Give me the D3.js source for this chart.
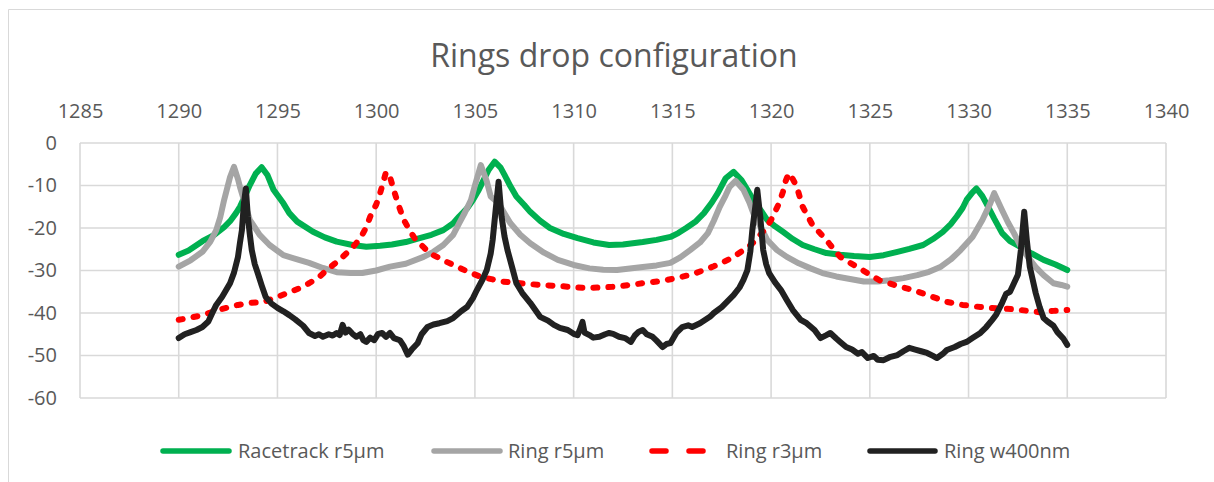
<!DOCTYPE html>
<html>
<head>
<meta charset="utf-8">
<script src="https://cdn.jsdelivr.net/npm/d3@7"></script>
<style>
  html, body { margin: 0; padding: 0; background: #ffffff; }
  svg { display: block; }
  text { font-family: "Open Sans", "Noto Sans", sans-serif; fill: #595959; }
</style>
</head>
<body>
<svg id="chart" width="1214" height="482"></svg>
<script>
// ---- Data: drop-port transmission (dB) versus wavelength (nm) ----
const chartTitle = "Rings drop configuration";
const seriesNames = ["Racetrack r5µm", "Ring r5µm", "Ring r3µm", "Ring w400nm"];

const xTicks = [1285, 1290, 1295, 1300, 1305, 1310, 1315, 1320, 1325, 1330, 1335, 1340];
const xTickLabels = ["1285", "1290", "1295", "1300", "1305", "1310", "1315", "1320", "1325", "1330", "1335", "1340"];
const yTicks = [0, -10, -20, -30, -40, -50, -60];
const yTickLabels = ["0", "-10", "-20", "-30", "-40", "-50", "-60"];

const racetrackWl = [1290.0, 1290.5, 1291.2, 1291.8, 1292.3, 1292.6, 1292.9, 1293.1, 1293.4, 1293.6, 1293.9, 1294.2, 1294.5, 1294.8, 1295.3, 1295.6, 1296.0, 1296.8, 1297.4, 1298.0, 1298.8, 1299.5, 1300.2, 1300.8, 1301.5, 1302.2, 1302.8, 1303.4, 1303.9, 1304.2, 1304.6, 1304.9, 1305.2, 1305.4, 1305.7, 1306.0, 1306.3, 1306.5, 1306.8, 1307.1, 1307.5, 1307.8, 1308.3, 1308.8, 1309.5, 1310.2, 1311.0, 1311.8, 1312.5, 1313.5, 1314.2, 1314.9, 1315.3, 1315.7, 1316.2, 1316.6, 1317.0, 1317.3, 1317.7, 1318.1, 1318.5, 1318.8, 1319.1, 1319.5, 1319.8, 1320.2, 1320.6, 1321.1, 1321.6, 1322.2, 1322.8, 1323.5, 1324.2, 1325.0, 1325.7, 1326.4, 1327.0, 1327.7, 1328.2, 1328.7, 1329.1, 1329.4, 1329.7, 1329.9, 1330.2, 1330.4, 1330.7, 1330.9, 1331.3, 1331.7, 1332.1, 1332.6, 1333.2, 1333.8, 1334.4, 1335.0];
const racetrackDb = [-26.3, -25.3, -23.1, -21.6, -19.8, -18.4, -16.5, -15.0, -12.0, -9.9, -7.2, -5.7, -7.6, -11.0, -14.2, -16.5, -18.5, -20.9, -22.2, -23.2, -24.0, -24.4, -24.2, -23.9, -23.3, -22.4, -21.6, -20.5, -18.9, -17.3, -15.4, -13.4, -11.0, -9.1, -6.3, -4.4, -5.8, -7.5, -10.2, -12.6, -14.6, -16.2, -18.3, -20.0, -21.4, -22.4, -23.4, -24.0, -23.9, -23.3, -22.8, -22.1, -21.2, -20.0, -18.4, -16.5, -14.0, -11.8, -8.3, -6.8, -8.7, -11.0, -13.4, -16.0, -18.1, -19.6, -20.9, -22.6, -24.0, -25.0, -25.9, -26.3, -26.6, -26.8, -26.4, -25.6, -24.9, -24.0, -22.6, -20.9, -19.1, -17.3, -15.3, -13.4, -11.6, -10.7, -12.5, -14.2, -17.8, -21.2, -23.1, -24.4, -26.0, -27.5, -28.6, -29.9];

const ring5Wl = [1290.0, 1290.6, 1291.2, 1291.6, 1291.9, 1292.1, 1292.3, 1292.6, 1292.8, 1293.0, 1293.1, 1293.4, 1293.6, 1294.1, 1294.6, 1295.3, 1296.0, 1296.6, 1297.3, 1298.0, 1298.7, 1299.3, 1300.0, 1300.7, 1301.5, 1302.4, 1302.9, 1303.4, 1303.9, 1304.2, 1304.5, 1304.8, 1305.0, 1305.3, 1305.6, 1305.8, 1306.2, 1306.5, 1306.8, 1307.3, 1307.8, 1308.5, 1309.2, 1310.0, 1310.8, 1311.5, 1312.2, 1313.5, 1314.2, 1314.9, 1315.4, 1315.9, 1316.4, 1316.8, 1317.1, 1317.4, 1317.7, 1317.9, 1318.2, 1318.6, 1318.9, 1319.1, 1319.5, 1319.8, 1320.3, 1320.8, 1321.4, 1322.0, 1322.6, 1323.3, 1324.0, 1324.7, 1325.4, 1326.0, 1326.7, 1327.4, 1328.0, 1328.6, 1329.1, 1329.6, 1330.2, 1330.7, 1331.1, 1331.3, 1331.7, 1332.0, 1332.3, 1332.6, 1333.0, 1333.4, 1333.8, 1334.3, 1334.7, 1335.0];
const ring5Db = [-29.1, -27.6, -25.6, -23.2, -20.5, -17.5, -13.4, -8.0, -5.6, -8.5, -10.3, -15.0, -18.1, -21.6, -24.0, -26.4, -27.4, -28.2, -29.4, -30.4, -30.6, -30.6, -30.0, -29.1, -28.4, -26.8, -25.6, -24.0, -21.6, -18.9, -16.3, -13.4, -10.0, -5.2, -9.0, -12.6, -14.2, -16.6, -18.9, -21.6, -23.6, -25.8, -27.5, -28.7, -29.5, -29.8, -29.9, -29.2, -28.8, -28.2, -26.9, -25.2, -23.4, -21.2, -18.3, -15.0, -12.3, -10.3, -8.9, -11.0, -14.0, -16.5, -20.0, -22.8, -25.2, -26.8, -28.3, -29.5, -30.6, -31.4, -32.0, -32.6, -32.6, -32.3, -31.8, -31.1, -30.3, -29.1, -27.4, -25.2, -22.1, -18.1, -14.2, -11.8, -15.8, -18.7, -21.2, -24.0, -26.8, -29.2, -31.1, -33.0, -33.4, -33.8];

const ring3Wl = [1290.0, 1290.6, 1291.2, 1292.0, 1293.0, 1293.7, 1294.3, 1294.9, 1295.5, 1296.1, 1296.6, 1297.1, 1297.5, 1297.9, 1298.3, 1298.8, 1299.2, 1299.5, 1299.7, 1300.0, 1300.2, 1300.4, 1300.5, 1300.7, 1300.9, 1301.1, 1301.4, 1301.7, 1302.0, 1302.4, 1302.7, 1303.4, 1304.1, 1304.7, 1305.3, 1305.9, 1306.4, 1307.3, 1308.3, 1309.4, 1310.5, 1311.3, 1312.2, 1313.5, 1314.4, 1315.2, 1316.0, 1316.6, 1317.1, 1317.6, 1318.1, 1318.6, 1319.0, 1319.3, 1319.7, 1320.0, 1320.2, 1320.4, 1320.6, 1320.7, 1320.9, 1321.1, 1321.3, 1321.6, 1322.1, 1322.8, 1323.0, 1323.5, 1324.0, 1324.5, 1325.0, 1325.5, 1326.3, 1327.2, 1328.0, 1328.9, 1329.7, 1330.6, 1331.4, 1332.3, 1333.0, 1333.6, 1334.3, 1335.0];
const ring3Db = [-41.6, -41.1, -40.5, -39.3, -38.1, -37.6, -37.4, -36.4, -35.3, -34.2, -33.0, -31.6, -29.9, -28.4, -26.8, -24.6, -22.4, -19.8, -17.3, -14.5, -11.8, -8.5, -6.8, -8.0, -11.2, -14.2, -18.1, -20.6, -22.8, -24.5, -25.9, -27.6, -29.1, -30.4, -31.5, -32.1, -32.6, -33.0, -33.4, -33.7, -34.1, -34.0, -33.8, -33.0, -32.5, -31.8, -30.9, -29.9, -29.0, -28.0, -26.8, -25.2, -23.9, -22.4, -20.3, -18.1, -16.2, -14.2, -11.5, -9.4, -7.1, -8.5, -10.3, -15.0, -19.3, -22.8, -24.0, -26.8, -28.2, -29.5, -31.0, -32.3, -33.5, -34.6, -35.9, -37.4, -38.1, -38.6, -38.9, -39.1, -39.5, -39.8, -39.5, -39.3];

const ringWWl = [1290.0, 1290.3, 1290.6, 1290.9, 1291.2, 1291.5, 1291.7, 1291.9, 1292.2, 1292.4, 1292.6, 1292.8, 1293.0, 1293.1, 1293.2, 1293.3, 1293.4, 1293.5, 1293.6, 1293.7, 1293.85, 1294.0, 1294.2, 1294.4, 1294.7, 1295.0, 1295.3, 1295.6, 1295.9, 1296.3, 1296.6, 1296.9, 1297.1, 1297.3, 1297.6, 1297.8, 1298.0, 1298.15, 1298.3, 1298.45, 1298.6, 1298.8, 1299.0, 1299.2, 1299.35, 1299.5, 1299.7, 1299.9, 1300.1, 1300.3, 1300.5, 1300.7, 1300.9, 1301.2, 1301.4, 1301.6, 1301.8, 1302.1, 1302.3, 1302.6, 1302.9, 1303.2, 1303.6, 1303.9, 1304.3, 1304.6, 1304.9, 1305.1, 1305.4, 1305.6, 1305.8, 1305.9, 1306.05, 1306.2, 1306.35, 1306.5, 1306.65, 1306.9, 1307.1, 1307.4, 1307.8, 1308.3, 1308.7, 1309.0, 1309.3, 1309.7, 1310.0, 1310.2, 1310.35, 1310.45, 1310.55, 1310.8, 1311.0, 1311.3, 1311.6, 1311.8, 1312.0, 1312.3, 1312.6, 1312.9, 1313.1, 1313.3, 1313.5, 1313.7, 1314.0, 1314.2, 1314.5, 1314.7, 1314.9, 1315.2, 1315.5, 1315.8, 1316.0, 1316.4, 1316.9, 1317.1, 1317.5, 1317.8, 1318.1, 1318.4, 1318.6, 1318.8, 1318.95, 1319.05, 1319.2, 1319.3, 1319.45, 1319.6, 1319.75, 1319.9, 1320.2, 1320.5, 1320.8, 1321.1, 1321.5, 1321.8, 1322.2, 1322.5, 1322.8, 1323.0, 1323.3, 1323.5, 1323.8, 1324.1, 1324.4, 1324.6, 1324.9, 1325.2, 1325.4, 1325.7, 1326.0, 1326.4, 1326.7, 1327.0, 1327.3, 1327.6, 1327.9, 1328.2, 1328.4, 1328.7, 1328.9, 1329.3, 1329.6, 1329.9, 1330.2, 1330.6, 1330.9, 1331.2, 1331.4, 1331.7, 1331.9, 1332.1, 1332.3, 1332.5, 1332.65, 1332.75, 1332.82, 1332.95, 1333.1, 1333.4, 1333.6, 1333.8, 1334.0, 1334.3, 1334.5, 1334.8, 1335.0];
const ringWDb = [-45.9, -45.0, -44.5, -44.0, -43.3, -42.0, -40.0, -38.1, -36.2, -34.6, -33.0, -30.5, -26.8, -23.5, -20.5, -14.2, -10.7, -17.3, -21.5, -25.2, -28.5, -30.6, -33.5, -36.2, -37.8, -38.8, -39.6, -40.5, -41.5, -43.0, -44.7, -45.4, -45.0, -45.6, -45.0, -45.3, -44.7, -45.2, -42.8, -44.6, -43.9, -44.9, -45.6, -45.0, -46.4, -46.8, -45.8, -46.4, -44.9, -44.7, -45.6, -44.7, -45.9, -46.4, -47.8, -49.8, -48.6, -47.1, -45.0, -43.3, -42.7, -42.4, -41.9, -41.2, -39.6, -38.6, -36.5, -34.6, -32.0, -29.9, -26.0, -22.8, -15.8, -9.1, -17.3, -22.0, -25.2, -29.5, -33.0, -35.3, -37.6, -40.9, -41.8, -42.8, -43.5, -44.0, -44.9, -45.2, -43.5, -42.1, -44.6, -45.2, -45.8, -45.6, -45.0, -44.7, -44.9, -45.6, -45.9, -46.8, -45.3, -44.4, -44.0, -45.0, -45.6, -46.5, -48.0, -47.3, -47.1, -44.7, -43.3, -42.9, -43.3, -42.4, -40.9, -40.0, -38.6, -37.2, -35.8, -34.0, -32.2, -29.9, -25.5, -20.5, -15.0, -11.0, -17.3, -25.2, -28.5, -30.6, -32.8, -34.6, -37.0, -39.3, -41.6, -42.4, -44.0, -45.9, -45.2, -44.7, -46.0, -46.8, -48.0, -48.6, -49.6, -49.2, -50.6, -50.1, -51.0, -51.1, -50.4, -49.9, -49.0, -48.2, -48.6, -49.0, -49.4, -50.1, -50.6, -49.6, -48.7, -48.0, -47.3, -46.8, -45.9, -44.7, -43.3, -41.6, -40.4, -37.6, -35.5, -35.0, -33.0, -31.0, -25.2, -19.8, -16.2, -22.8, -29.1, -35.3, -38.6, -41.2, -42.0, -43.0, -44.5, -46.0, -47.5];

// ---- Layout ----
const W = 1214, H = 482;
const plot = { left: 80, right: 1166, top: 143, bottom: 398 };

const x = d3.scaleLinear().domain([1285, 1340]).range([plot.left, plot.right]);
const y = d3.scaleLinear().domain([-60, 0]).range([plot.bottom, plot.top]);

const svg = d3.select("#chart");
svg.append("rect").attr("width", W).attr("height", H).attr("fill", "#ffffff");

// chart-area frame (left and top edges)
svg.append("path")
  .attr("d", `M8.5,${H} L8.5,9.5 L${W},9.5`)
  .attr("fill", "none").attr("stroke", "#d9d9d9").attr("stroke-width", 1);

// Title
svg.append("text")
  .attr("x", 614).attr("y", 67)
  .attr("text-anchor", "middle")
  .style("font-size", "32px")
  .text(chartTitle);

// Gridlines
const grid = svg.append("g").attr("stroke", "#d9d9d9").attr("stroke-width", 1.6);
grid.selectAll("line.v").data(xTicks).join("line")
  .attr("class", "v")
  .attr("x1", d => x(d)).attr("x2", d => x(d))
  .attr("y1", plot.top).attr("y2", plot.bottom);
grid.selectAll("line.h").data(yTicks).join("line")
  .attr("class", "h")
  .attr("x1", plot.left).attr("x2", plot.right)
  .attr("y1", d => y(d)).attr("y2", d => y(d));

// Axes (labels only; the frame is drawn by the gridlines)
const xAxis = svg.append("g")
  .attr("transform", "translate(0,118)")
  .call(d3.axisTop(x).tickValues(xTicks).tickFormat((d, i) => xTickLabels[i]).tickSize(0).tickPadding(0));
const yAxis = svg.append("g")
  .attr("transform", "translate(57,0)")
  .call(d3.axisLeft(y).tickValues(yTicks).tickFormat((d, i) => yTickLabels[i]).tickSize(0).tickPadding(0));
[xAxis, yAxis].forEach(g => {
  g.select(".domain").remove();
  g.selectAll("text")
    .attr("fill", "#595959")
    .style("font-family", "'Open Sans', 'Noto Sans', sans-serif")
    .style("font-size", "20px");
});

// Series
const line = d3.line().x(d => x(d[0])).y(d => y(d[1]));
const series = [
  { name: seriesNames[0], wl: racetrackWl, db: racetrackDb, color: "#00b050", dash: null },
  { name: seriesNames[1], wl: ring5Wl, db: ring5Db, color: "#a5a5a5", dash: null },
  { name: seriesNames[2], wl: ring3Wl, db: ring3Db, color: "#ff0000", dash: "4,11" },
  { name: seriesNames[3], wl: ringWWl, db: ringWDb, color: "#212121", dash: null }
];

svg.append("g").selectAll("path").data(series).join("path")
  .attr("d", s => line(s.wl.map((w, i) => [w, s.db[i]])))
  .attr("fill", "none")
  .attr("stroke", s => s.color)
  .attr("stroke-width", 6)
  .attr("stroke-linejoin", "round")
  .attr("stroke-linecap", "round")
  .attr("stroke-dasharray", s => s.dash);

// Legend
const legendY = 451;
const legendItems = [
  { x0: 163, x1: 229, tx: 238 },
  { x0: 434, x1: 500, tx: 508 },
  { x0: 652, x1: 703, tx: 726, dash: "14,23" },
  { x0: 870, x1: 935, tx: 944 }
];
const legend = svg.append("g");
legend.selectAll("line").data(series).join("line")
  .attr("x1", (s, i) => legendItems[i].x0)
  .attr("x2", (s, i) => legendItems[i].x1)
  .attr("y1", legendY).attr("y2", legendY)
  .attr("stroke", s => s.color)
  .attr("stroke-width", 5.5)
  .attr("stroke-linecap", "round")
  .attr("stroke-dasharray", (s, i) => legendItems[i].dash || null);
legend.selectAll("text").data(series).join("text")
  .attr("x", (s, i) => legendItems[i].tx)
  .attr("y", legendY + 7)
  .style("font-size", "20px")
  .text(s => s.name);
</script>
</body>
</html>
